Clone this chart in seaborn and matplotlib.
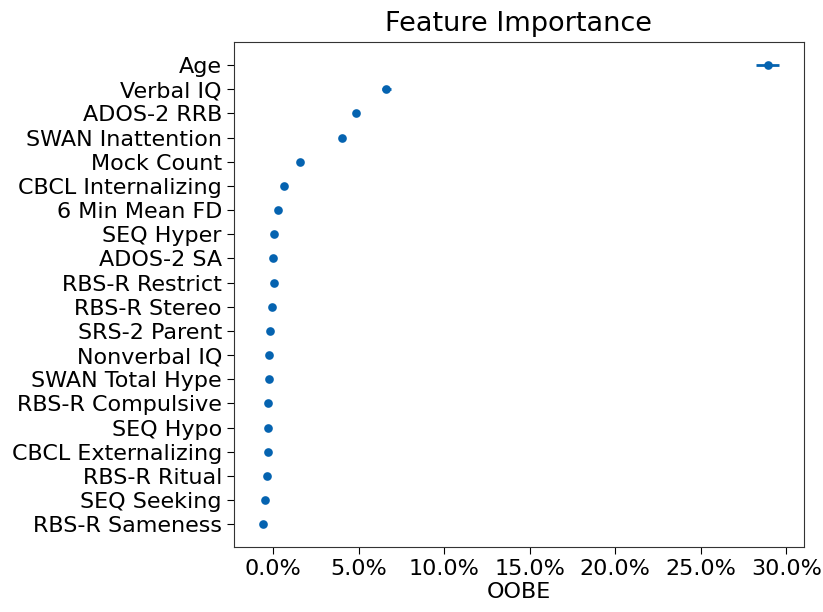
import matplotlib
matplotlib.use("Agg")
import matplotlib.pyplot as plt
import seaborn as sns
import numpy as np
from matplotlib.ticker import FuncFormatter

features = ["Age", "Verbal IQ", "ADOS-2 RRB", "SWAN Inattention", "Mock Count",
            "CBCL Internalizing", "6 Min Mean FD", "SEQ Hyper", "ADOS-2 SA",
            "RBS-R Restrict", "RBS-R Stereo", "SRS-2 Parent", "Nonverbal IQ",
            "SWAN Total Hype", "RBS-R Compulsive", "SEQ Hypo", "CBCL Externalizing",
            "RBS-R Ritual", "SEQ Seeking", "RBS-R Sameness"]
oobe = [28.9, 6.62, 4.85, 4.03, 1.61, 0.62, 0.27, 0.06, 0.02, 0.04,
        -0.08, -0.20, -0.24, -0.24, -0.27, -0.29, -0.31, -0.35, -0.49, -0.57]
oobe_err = [0.65, 0.25, 0.08, 0.08, 0.08, 0.08, 0.06, 0.06, 0.06, 0.06,
            0.06, 0.06, 0.06, 0.06, 0.06, 0.06, 0.06, 0.06, 0.06, 0.06]
x_ticks = [0, 5, 10, 15, 20, 25, 30]

color = "#0563b0"

fig = plt.figure(figsize=(8.23, 6.12), dpi=100)
ax = fig.add_axes([0.284, 0.106, 0.693, 0.825])

sns.pointplot(x=oobe, y=features, orient="h", linestyle="none", errorbar=None,
              color=color, markersize=4.2, ax=ax)
ax.errorbar(oobe, np.arange(len(features)), xerr=oobe_err, fmt="none",
            ecolor=color, elinewidth=2, capsize=0)

ax.set_xlim(-2.29, 31.03)
ax.set_ylim(len(features) - 0.05, -0.95)
ax.set_xticks(x_ticks)
ax.xaxis.set_major_formatter(FuncFormatter(lambda v, p: f"{v:.1f}%"))
ax.tick_params(axis="both", labelsize=16, length=5)
ax.set_xlabel("OOBE", fontsize=16, labelpad=2)
ax.set_ylabel("")
ax.set_title("Feature Importance", fontsize=19.5, pad=8)
for s in ax.spines.values():
    s.set_visible(True)
    s.set_color("#333333")

fig.savefig("out.png", dpi=100)
